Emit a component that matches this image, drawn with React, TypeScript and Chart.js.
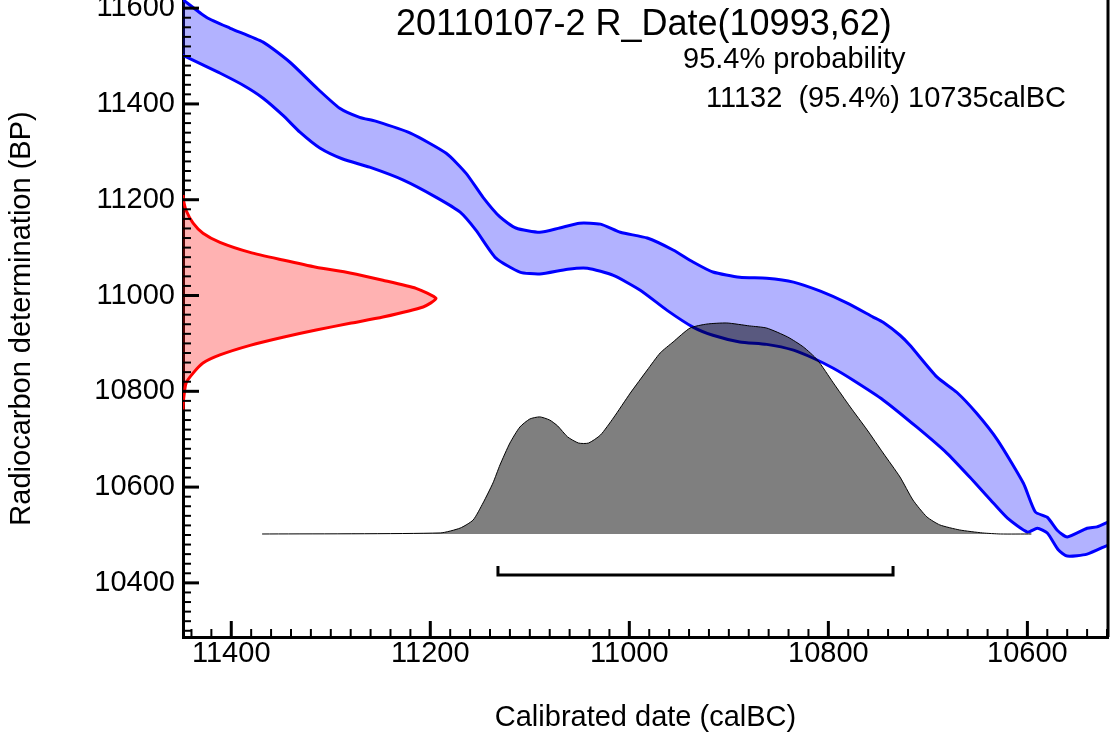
import { useEffect, useRef } from 'react';
import { Chart, registerables } from 'chart.js';

Chart.register(...registerables);

const FONT = '"Liberation Sans", Arial, sans-serif';

// axis ranges
const X_LEFT = 11448.5; // calBC at left edge
const X_RIGHT = 10519; // calBC at right edge
const Y_BOTTOM = 10287;
const Y_TOP = 11617;
const MAJOR_STEP = 200;
const MINOR_STEP = 20;

// texts
const TITLE = '20110107-2 R_Date(10993,62)';
const PROB_LABEL = '95.4% probability';
const RANGE_LABEL = '11132  (95.4%) 10735calBC';
const X_TITLE = 'Calibrated date (calBC)';
const Y_TITLE = 'Radiocarbon determination (BP)';

// calibration curve, upper edge (calBC, BP)
const UPPER_CAL = [11450, 11425, 11401, 11368, 11341, 11315, 11291, 11271, 11255, 11220, 11184, 11164, 11147, 11130, 11114, 11090, 11070, 11050, 11029, 11009, 10982, 10956, 10936, 10916, 10889, 10862, 10835, 10808, 10781, 10755, 10745, 10728, 10718, 10691, 10671, 10651, 10630, 10604, 10592, 10580, 10570, 10560, 10540, 10530, 10519, 10515];
const UPPER_BP = [11620, 11581, 11558, 11529, 11487, 11435, 11391, 11372, 11364, 11339, 11297, 11255, 11205, 11164, 11141, 11132, 11141, 11151, 11149, 11132, 11120, 11095, 11070, 11049, 11038, 11036, 11028, 11009, 10984, 10955, 10944, 10917, 10896, 10830, 10798, 10754, 10698, 10608, 10548, 10537, 10510, 10496, 10514, 10517, 10527, 10530];

// calibration curve, lower edge (calBC, BP)
const LOWER_CAL = [11450, 11428, 11411, 11388, 11368, 11348, 11331, 11311, 11288, 11261, 11227, 11194, 11170, 11154, 11134, 11110, 11090, 11062, 11042, 11016, 10989, 10962, 10936, 10916, 10889, 10862, 10835, 10815, 10795, 10775, 10745, 10711, 10681, 10658, 10637, 10620, 10600, 10590, 10580, 10569, 10560, 10540, 10519, 10515];
const LOWER_BP = [11503, 11481, 11464, 11439, 11412, 11376, 11341, 11308, 11285, 11268, 11241, 11205, 11174, 11136, 11078, 11049, 11045, 11055, 11057, 11042, 11011, 10969, 10934, 10917, 10903, 10898, 10886, 10869, 10848, 10823, 10782, 10725, 10671, 10621, 10573, 10535, 10506, 10514, 10504, 10469, 10456, 10460, 10479, 10482];

// radiocarbon measurement (BP, relative density)
const RED_BP = [11210, 11199, 11178, 11151, 11130, 11111, 11090, 11074, 11059, 11047, 11032, 11015, 10994, 10976, 10955, 10942, 10928, 10913, 10896, 10876, 10859, 10838, 10817, 10782, 10760];
const RED_P = [0, 0.002, 0.012, 0.04, 0.079, 0.146, 0.265, 0.395, 0.526, 0.66, 0.79, 0.921, 1.0, 0.949, 0.79, 0.66, 0.526, 0.395, 0.265, 0.146, 0.079, 0.04, 0.012, 0.002, 0];
const RED_P_MAX = 3.656;

// calibrated distribution (calBC, relative density)
const GRAY_CAL = [11369, 11190, 11170, 11157, 11147, 11137, 11130, 11120, 11110, 11100, 11090, 11080, 11072, 11062, 11051, 11041, 11029, 11016, 10999, 10982, 10969, 10956, 10939, 10922, 10902, 10879, 10862, 10841, 10825, 10811, 10795, 10778, 10761, 10745, 10728, 10715, 10701, 10688, 10668, 10645, 10627, 10596];
const GRAY_P = [0, 0.005, 0.028, 0.066, 0.147, 0.242, 0.327, 0.431, 0.507, 0.545, 0.555, 0.54, 0.512, 0.46, 0.431, 0.431, 0.469, 0.55, 0.668, 0.777, 0.858, 0.91, 0.976, 0.995, 1.0, 0.986, 0.976, 0.934, 0.886, 0.825, 0.716, 0.602, 0.493, 0.384, 0.27, 0.161, 0.081, 0.043, 0.019, 0.005, 0, 0];
const P_MIN = -0.4882;
const P_MAX = 2.5308;

// 95.4% range bracket
const BRACKET_CAL = [11132, 11132, 10735, 10735];
const BRACKET_P = [-0.152, -0.194, -0.194, -0.152];

const pts = (xs: number[], ys: number[]) => xs.map((x, i) => ({ x, y: ys[i] }));

const buildTicks = (lo: number, hi: number) => {
  const t: { value: number }[] = [];
  for (let v = Math.ceil(lo / MINOR_STEP) * MINOR_STEP; v <= hi; v += MINOR_STEP) t.push({ value: v });
  return t;
};

const tickLabel = (v: any) => (Number(v) % MAJOR_STEP === 0 ? String(v) : '');

export default function App() {
  const ref = useRef<HTMLCanvasElement>(null);

  useEffect(() => {
    const canvas = ref.current;
    if (!canvas) return;

    const overlay = {
      id: 'overlay',
      afterDraw(chart: any) {
        const { ctx, chartArea: a } = chart;
        const xs = chart.scales.x;
        const ys = chart.scales.y;
        ctx.save();
        ctx.strokeStyle = '#000';
        for (const t of xs.ticks) {
          const px = xs.getPixelForValue(t.value);
          const major = t.value % MAJOR_STEP === 0;
          ctx.lineWidth = major ? 3 : 2;
          ctx.beginPath();
          ctx.moveTo(px, a.bottom);
          ctx.lineTo(px, a.bottom - (major ? 16 : 8));
          ctx.stroke();
        }
        for (const t of ys.ticks) {
          const py = ys.getPixelForValue(t.value);
          const major = t.value % MAJOR_STEP === 0;
          ctx.lineWidth = major ? 3 : 2;
          ctx.beginPath();
          ctx.moveTo(a.left, py);
          ctx.lineTo(a.left + (major ? 16 : 8), py);
          ctx.stroke();
        }
        ctx.lineWidth = 3;
        ctx.beginPath();
        ctx.moveTo(a.right, a.top);
        ctx.lineTo(a.right, a.bottom);
        ctx.stroke();

        ctx.fillStyle = '#000';
        ctx.textAlign = 'left';
        ctx.textBaseline = 'alphabetic';
        ctx.font = `36px ${FONT}`;
        ctx.fillText(TITLE, 396, 35);
        ctx.font = `29px ${FONT}`;
        ctx.fillText(PROB_LABEL, 683, 68);
        ctx.fillText(RANGE_LABEL, 706, 107);
        ctx.restore();
      },
    };

    const chart = new Chart(canvas, {
      type: 'line',
      data: {
        datasets: [
          {
            label: 'curve lower',
            data: pts(LOWER_CAL, LOWER_BP),
            borderColor: '#0000ff',
            borderWidth: 3,
            pointRadius: 0,
            fill: false,
            tension: 0.2,
            xAxisID: 'x',
            yAxisID: 'y',
            order: 4,
          },
          {
            label: 'curve upper',
            data: pts(UPPER_CAL, UPPER_BP),
            borderColor: '#0000ff',
            backgroundColor: 'rgba(0,0,255,0.3)',
            borderWidth: 3,
            pointRadius: 0,
            fill: '-1',
            tension: 0.2,
            xAxisID: 'x',
            yAxisID: 'y',
            order: 3,
          },
          {
            label: 'calibrated',
            data: pts(GRAY_CAL, GRAY_P),
            borderColor: '#000000',
            backgroundColor: 'rgba(0,0,0,0.5)',
            borderWidth: 1,
            pointRadius: 0,
            fill: 'origin',
            tension: 0.2,
            xAxisID: 'x',
            yAxisID: 'yP',
            order: 2,
          },
          {
            label: 'measurement',
            data: pts(RED_P, RED_BP),
            indexAxis: 'y',
            borderColor: '#ff0000',
            backgroundColor: 'rgba(255,0,0,0.3)',
            borderWidth: 3,
            pointRadius: 0,
            fill: 'origin',
            tension: 0.2,
            xAxisID: 'xR',
            yAxisID: 'y',
            order: 1,
          },
          {
            label: 'range',
            data: pts(BRACKET_CAL, BRACKET_P),
            borderColor: '#000000',
            borderWidth: 3,
            pointRadius: 0,
            fill: false,
            tension: 0,
            xAxisID: 'x',
            yAxisID: 'yP',
            order: 0,
          },
        ] as any,
      },
      options: {
        responsive: false,
        animation: false,
        events: [],
        layout: { padding: { left: 0, right: 2, top: 0, bottom: 0 } },
        plugins: { legend: { display: false }, tooltip: { enabled: false }, title: { display: false } },
        scales: {
          x: {
            type: 'linear',
            position: 'bottom',
            reverse: true,
            min: X_RIGHT,
            max: X_LEFT,
            bounds: 'data',
            afterBuildTicks: (axis: any) => {
              axis.ticks = buildTicks(X_RIGHT, X_LEFT);
            },
            afterFit: (axis: any) => {
              axis.height = 103;
              axis.paddingLeft = 0;
              axis.paddingRight = 0;
            },
            grid: { display: false, drawTicks: false },
            border: { display: true, width: 3, color: '#000' },
            ticks: {
              autoSkip: false,
              maxRotation: 0,
              minRotation: 0,
              padding: 0,
              color: '#000',
              font: { family: FONT, size: 29 },
              callback: tickLabel,
            },
            title: {
              display: true,
              text: X_TITLE,
              color: '#000',
              font: { family: FONT, size: 29 },
              padding: { top: 0, bottom: 5 },
            },
          },
          y: {
            type: 'linear',
            position: 'left',
            min: Y_BOTTOM,
            max: Y_TOP,
            bounds: 'data',
            afterBuildTicks: (axis: any) => {
              axis.ticks = buildTicks(Y_BOTTOM, Y_TOP);
            },
            afterFit: (axis: any) => {
              axis.width = 183;
              axis.paddingTop = 0;
              axis.paddingBottom = 0;
            },
            grid: { display: false, drawTicks: false },
            border: { display: true, width: 3, color: '#000' },
            ticks: {
              autoSkip: false,
              padding: 8,
              color: '#000',
              font: { family: FONT, size: 29 },
              callback: tickLabel,
            },
            title: {
              display: true,
              text: Y_TITLE,
              color: '#000',
              font: { family: FONT, size: 29 },
              padding: { top: 5, bottom: 0 },
            },
          },
          xR: {
            type: 'linear',
            position: 'bottom',
            display: false,
            min: 0,
            max: RED_P_MAX,
          },
          yP: {
            type: 'linear',
            position: 'left',
            display: false,
            min: P_MIN,
            max: P_MAX,
          },
        } as any,
      },
      plugins: [overlay],
    } as any);

    return () => chart.destroy();
  }, []);

  return (
    <div style={{ position: 'absolute', left: 0, top: 0, width: 1110, height: 740, background: '#fff' }}>
      <canvas ref={ref} width={1110} height={740} style={{ display: 'block' }} />
    </div>
  );
}
